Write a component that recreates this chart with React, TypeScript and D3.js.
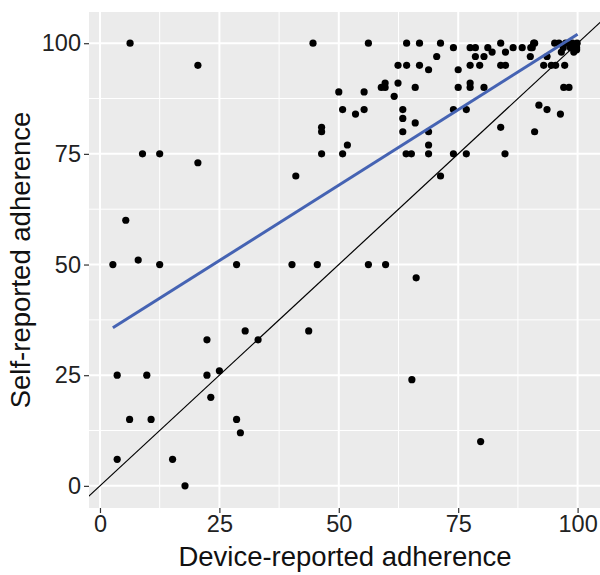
import React, { useEffect, useRef } from 'react';
import * as d3 from 'd3';

// device-reported (x) and self-reported (y) adherence, one entry per patient
const deviceAdherence = [
  6.3, 20.5, 44.6, 46.4, 46.4, 46.4, 8.9, 12.5, 20.5, 41.0, 5.4, 8.0, 2.7, 12.5, 28.6, 40.2, 45.5,
  30.4, 22.4, 33.1, 43.7, 3.6, 9.8, 22.4, 25.0, 23.2, 6.2, 10.7, 28.6, 29.4, 3.6, 15.2, 17.8,
  56.2, 59.8, 66.2, 65.3, 79.7,
  50.0, 50.8, 51.8, 50.8, 53.5, 55.3, 55.3, 56.2, 59.7, 58.9, 59.7, 61.6, 62.4, 62.4, 64.2, 66.9,
  64.2, 66.9, 66.0, 63.4, 63.4, 66.0, 63.4, 68.8, 68.8, 68.8, 64.1, 65.2, 68.8, 70.5, 71.3, 71.3,
  74.0, 74.0, 74.0, 75.0, 75.0, 76.7, 76.7,
  77.5, 78.6, 81.2, 82.1, 83.9, 84.9, 86.5, 88.4, 90.2, 91.0, 78.6, 80.4, 90.1, 93.6, 77.5, 79.5,
  83.9, 84.9, 92.9, 94.5, 95.4, 97.3, 77.5, 77.5, 80.4, 97.1, 98.2, 91.9, 93.6, 96.4, 83.9, 91.0,
  84.8, 90.8, 90.5,
  95.2, 96.1, 97.5, 98.9, 99.9, 97.0, 98.5, 99.8, 96.6, 99.2, 99.8,
];
const selfAdherence = [
  100, 95, 100, 81, 80, 75, 75, 75, 73, 70, 60, 51, 50, 50, 50, 50, 50,
  35, 33, 33, 35, 25, 25, 25, 26, 20, 15, 15, 15, 12, 6, 6, 0,
  50, 50, 47, 24, 10,
  89, 85, 77, 75, 84, 85, 89, 100, 91, 90, 90, 88, 91, 95, 95, 95,
  100, 100, 90, 85, 83, 82, 80, 80, 77, 75, 75, 75, 94, 97, 100, 70,
  99, 85, 75, 94, 90, 85, 75,
  99, 99, 99, 98, 100, 98, 99, 99, 99, 100, 97, 97, 97, 97, 95, 95,
  95, 95, 95, 95, 95, 95, 91, 90, 90, 90, 90, 86, 85, 84, 81, 80,
  75, 100, 99,
  100, 100, 100, 100, 100, 99, 99, 99, 98, 98, 98.5,
];

// linear fit endpoints (blue line)
const fitX = [2.7, 100];
const fitY = [35.7, 102];

const xTicks = [0, 25, 50, 75, 100];
const yTicks = [0, 25, 50, 75, 100];

const App = () => {
  const chartRef = useRef<SVGSVGElement>(null);

  useEffect(() => {
    const svg = d3.select(chartRef.current);
    svg.selectAll('*').remove();

    const panel = { left: 89, right: 601, top: 12, bottom: 508 };
    const font = '"Liberation Sans", Arial, sans-serif';

    const x = d3.scaleLinear().domain([-2.3, 104.9]).range([panel.left, panel.right]);
    const y = d3.scaleLinear().domain([-5.0, 107.05]).range([panel.bottom, panel.top]);

    svg.append('defs').append('clipPath').attr('id', 'panel-clip')
      .append('rect')
      .attr('x', panel.left).attr('y', panel.top)
      .attr('width', panel.right - panel.left).attr('height', panel.bottom - panel.top);

    svg.append('rect')
      .attr('x', panel.left).attr('y', panel.top)
      .attr('width', panel.right - panel.left).attr('height', panel.bottom - panel.top)
      .attr('fill', '#ebebeb');

    const grid = svg.append('g');
    const minorX = xTicks.slice(0, -1).map((d, i) => (d + xTicks[i + 1]) / 2);
    const minorY = yTicks.slice(0, -1).map((d, i) => (d + yTicks[i + 1]) / 2);

    grid.selectAll('.minor-x').data(minorX).enter().append('line')
      .attr('x1', (d) => x(d)).attr('x2', (d) => x(d))
      .attr('y1', panel.top).attr('y2', panel.bottom)
      .attr('stroke', '#fff').attr('stroke-width', 1);
    grid.selectAll('.minor-y').data(minorY).enter().append('line')
      .attr('x1', panel.left).attr('x2', panel.right)
      .attr('y1', (d) => y(d)).attr('y2', (d) => y(d))
      .attr('stroke', '#fff').attr('stroke-width', 1);
    grid.selectAll('.major-x').data(xTicks).enter().append('line')
      .attr('x1', (d) => x(d)).attr('x2', (d) => x(d))
      .attr('y1', panel.top).attr('y2', panel.bottom)
      .attr('stroke', '#fff').attr('stroke-width', 2);
    grid.selectAll('.major-y').data(yTicks).enter().append('line')
      .attr('x1', panel.left).attr('x2', panel.right)
      .attr('y1', (d) => y(d)).attr('y2', (d) => y(d))
      .attr('stroke', '#fff').attr('stroke-width', 2);

    const plot = svg.append('g').attr('clip-path', 'url(#panel-clip)');

    // identity line y = x
    plot.append('line')
      .attr('x1', x(-10)).attr('y1', y(-10))
      .attr('x2', x(120)).attr('y2', y(120))
      .attr('stroke', '#000').attr('stroke-width', 1.2);

    const points = deviceAdherence.map((d, i) => [d, selfAdherence[i]]);
    plot.selectAll('.dot').data(points).enter().append('circle')
      .attr('cx', (d) => x(d[0])).attr('cy', (d) => y(d[1]))
      .attr('r', 3.6).attr('fill', '#000');

    const line = d3.line<number>().x((d) => x(d)).y((d, i) => y(fitY[i]));
    plot.append('path')
      .attr('d', line(fitX))
      .attr('fill', 'none').attr('stroke', '#4563b3').attr('stroke-width', 3);

    // axes
    const xAxis = svg.append('g').attr('transform', `translate(0,${panel.bottom})`)
      .call(d3.axisBottom(x).tickValues(xTicks).tickSize(5).tickPadding(2).tickFormat(d3.format('d')));
    const yAxis = svg.append('g').attr('transform', `translate(${panel.left},0)`)
      .call(d3.axisLeft(y).tickValues(yTicks).tickSize(5).tickPadding(3).tickFormat(d3.format('d')));
    [xAxis, yAxis].forEach((a) => {
      a.select('.domain').remove();
      a.selectAll('line').attr('stroke', '#333').attr('stroke-width', 1.2);
      a.selectAll('text').attr('fill', '#222').attr('font-family', font).attr('font-size', 23.5);
    });

    svg.append('text')
      .attr('x', (panel.left + panel.right) / 2).attr('y', 566)
      .attr('text-anchor', 'middle')
      .attr('font-family', font).attr('font-size', 27.5).attr('fill', '#111')
      .text('Device-reported adherence');

    svg.append('text')
      .attr('transform', `translate(30,${(panel.top + panel.bottom) / 2}) rotate(-90)`)
      .attr('text-anchor', 'middle')
      .attr('font-family', font).attr('font-size', 27.5).attr('fill', '#111')
      .text('Self-reported adherence');
  }, []);

  return (
    <svg
      ref={chartRef}
      width={600}
      height={575}
      style={{ position: 'absolute', left: 0, top: 0, background: '#fff' }}
    ></svg>
  );
};

export default App;
